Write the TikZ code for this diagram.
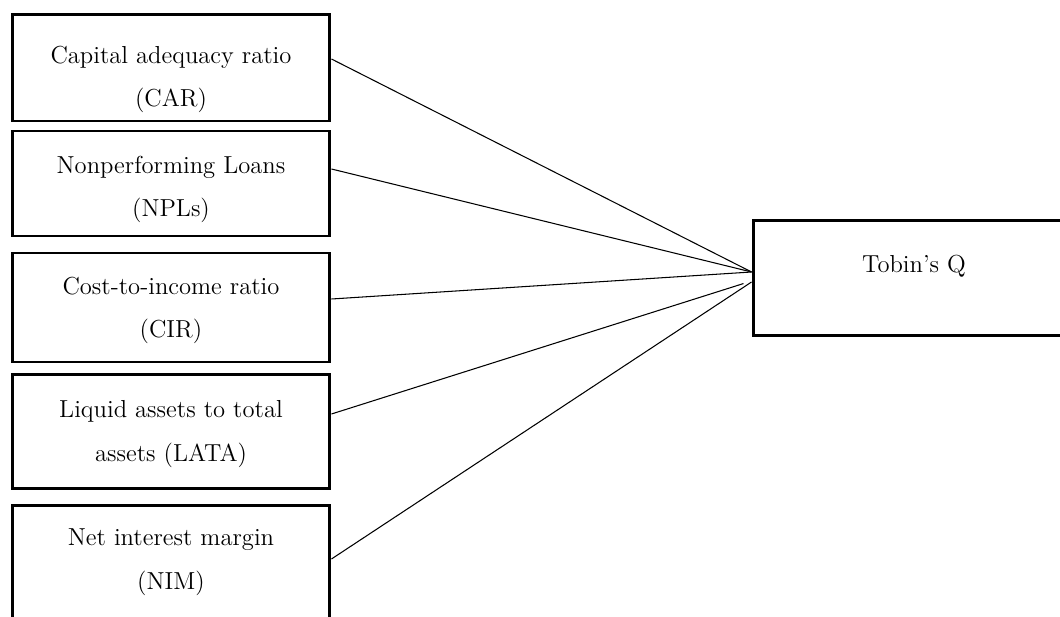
\documentclass[tikz,border=0pt]{standalone}
\begin{document}
\begin{tikzpicture}[x=0.02cm, y=-0.02cm,
    box/.style={draw, rectangle, line width=1.7pt, inner sep=0pt},
    txt/.style={align=center, anchor=base, inner sep=0pt, font=\fontsize{14}{24.5}\selectfont},
    link/.style={line width=0.6pt}]
  \useasboundingbox (0,0) rectangle (1060,617);
  \clip (0,0) rectangle (1060,617);
  % dependent variable
  \node[box, minimum width=6.46cm, minimum height=2.29cm] (tq) at (914.5,278) {};
  \node[txt] (tq-t) at (914,273) {Tobin's Q};
  % ratios
  \foreach \n/\yt/\yb/\ya/\la/\lb in {car/15/121/107/Capital adequacy ratio/{(CAR)},
      npl/131/236/217/Nonperforming Loans/{(NPLs)},
      cir/253/362/338/Cost-to-income ratio/{(CIR)},
      lata/374.5/488.5/461/Liquid assets to total/{assets (LATA)},
      nim/505.5/640/589/Net interest margin/{(NIM)}}
  {
    \node[box, minimum width=6.36cm, minimum height=0.02cm*(\yb-\yt)] (\n) at (171,{(\yt+\yb)/2}) {};
    \node[txt] (\n-t) at (171,\ya) {\la\\\lb};
  }
  % links
  \foreach \n/\ys/\ye/\s in {car/59/272/0, npl/169/272/0, cir/299/272/0, lata/414/281/0.17, nim/559/282/0}
    \draw[link, shorten >=\s cm] (\n.east |- 0,\ys) -- (tq.west |- 0,\ye);
\end{tikzpicture}
\end{document}
